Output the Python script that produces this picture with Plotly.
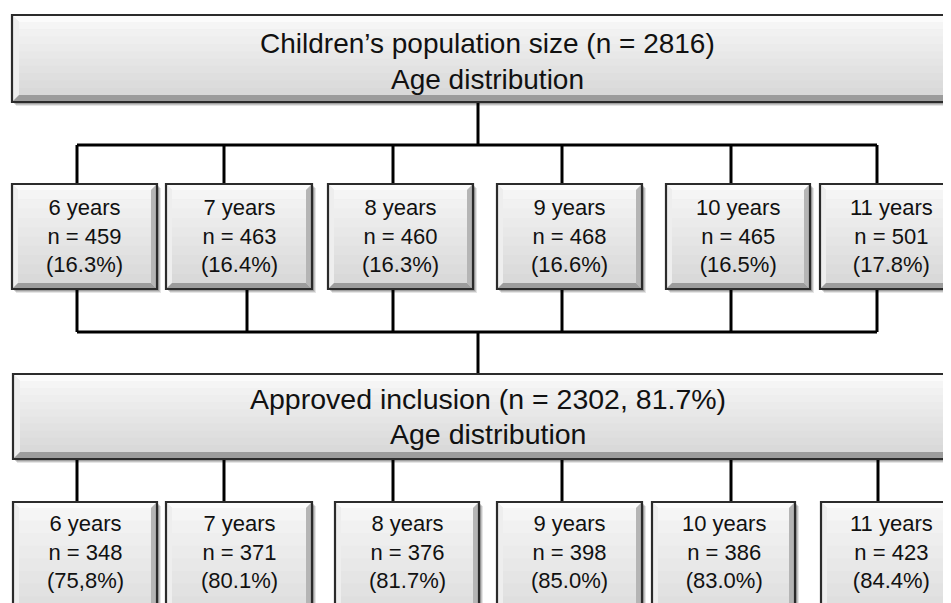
import plotly.graph_objects as go

# ---------------- data ----------------
age_groups = ["6 years", "7 years", "8 years", "9 years", "10 years", "11 years"]
population_n = [459, 463, 460, 468, 465, 501]
population_pct = ["16.3%", "16.4%", "16.3%", "16.6%", "16.5%", "17.8%"]
included_n = [348, 371, 376, 398, 386, 423]
included_pct = ["75,8%", "80.1%", "81.7%", "85.0%", "83.0%", "84.4%"]
population_total = 2816
included_total = 2302
included_total_pct = "81.7%"
top_title = "Children\u2019s population size (n = {})".format(population_total)
mid_title = "Approved inclusion (n = {}, {})".format(included_total, included_total_pct)
subtitle = "Age distribution"

# ---------------- layout geometry (page pixels) ----------------
W, H = 951, 603
PAGE_OFFSET = 8  # default browser body margin
top_box = (12, 962, 15, 102)
mid_box = (13, 962, 374, 459)
row1_x = [(12, 157), (166, 312), (328, 473), (497, 642), (666, 810), (820, 962)]
row1_y = (184, 289)
row2_x = [(13, 157), (166, 312), (335, 479), (497, 642), (652, 795), (821, 962)]
row2_y = (502, 640)
row1_drop_top = [77, 224, 393, 562, 731, 877]
row1_drop_bot = [77, 247, 393, 562, 731, 877]
row2_drop = [77, 224, 393, 562, 731, 878]
center_x = 478

fig = go.Figure()
fig.add_trace(go.Scatter(x=[PAGE_OFFSET, W], y=[PAGE_OFFSET, H], mode="markers",
                         marker=dict(opacity=0), hoverinfo="skip", showlegend=False))

shapes = []
annotations = []

LINE = dict(color="#000000", width=3)


def seg(x0, y0, x1, y1):
    shapes.append(dict(type="line", xref="x", yref="y", x0=x0, y0=y0, x1=x1, y1=y1,
                       line=LINE, layer="below"))


def box(x0, x1, y0, y1, bev=6):
    # soft shadow
    for i, a in enumerate([0.10, 0.14, 0.18]):
        o = 4 - i
        shapes.append(dict(type="rect", xref="x", yref="y", x0=x0 + o, x1=x1 + o, y0=y0 + o, y1=y1 + o,
                           fillcolor="rgba(0,0,0,%.2f)" % a, line=dict(width=0), layer="below"))
    # body
    shapes.append(dict(type="rect", xref="x", yref="y", x0=x0, x1=x1, y0=y0, y1=y1,
                       fillcolor="#e4e4e4", line=dict(width=0), layer="below"))
    # vertical gradient inside
    n = 10
    ix0, ix1, iy0, iy1 = x0 + bev, x1 - bev, y0 + bev, y1 - bev
    for k in range(n):
        t = k / (n - 1)
        g = int(245 - 28 * t)
        shapes.append(dict(type="rect", xref="x", yref="y", x0=ix0, x1=ix1,
                           y0=iy0 + (iy1 - iy0) * k / n, y1=iy0 + (iy1 - iy0) * (k + 1) / n + 0.5,
                           fillcolor="rgb(%d,%d,%d)" % (g, g, g), line=dict(width=0), layer="below"))
    # bevels
    def poly(pts, col):
        p = "M " + " L ".join("%s,%s" % (a, b) for a, b in pts) + " Z"
        shapes.append(dict(type="path", xref="x", yref="y", path=p, fillcolor=col,
                           line=dict(width=0), layer="below"))
    poly([(x0, y0), (x1, y0), (ix1, iy0), (ix0, iy0)], "#fbfbfb")
    poly([(x0, y0), (ix0, iy0), (ix0, iy1), (x0, y1)], "#eeeeee")
    poly([(x1, y0), (x1, y1), (ix1, iy1), (ix1, iy0)], "#b5b5b5")
    poly([(x0, y1), (ix0, iy1), (ix1, iy1), (x1, y1)], "#9c9c9c")
    # outline
    shapes.append(dict(type="rect", xref="x", yref="y", x0=x0, x1=x1, y0=y0, y1=y1,
                       fillcolor="rgba(0,0,0,0)", line=dict(color="#2b2b2b", width=2.2), layer="below"))


def text(x, y, s, size):
    annotations.append(dict(x=x, y=y, xref="x", yref="y", text=s, showarrow=False,
                            xanchor="center", yanchor="middle",
                            font=dict(family="Liberation Sans, Arial, sans-serif", size=size, color="#111111")))


# connectors
seg(center_x, top_box[3], center_x, 145)
seg(row1_drop_top[0], 145, row1_drop_top[-1], 145)
for x in row1_drop_top:
    seg(x, 145, x, row1_y[0])
for x in row1_drop_bot:
    seg(x, row1_y[1], x, 332)
seg(row1_drop_bot[0], 332, row1_drop_bot[-1], 332)
seg(center_x, 332, center_x, mid_box[2])
for x in row2_drop:
    seg(x, mid_box[3], x, row2_y[0])

# big boxes
box(*top_box, bev=7)
cx = (top_box[0] + top_box[1]) / 2
text(cx, 43, top_title, 28)
text(cx, 79, subtitle, 28)

box(*mid_box, bev=7)
cx = (mid_box[0] + mid_box[1]) / 2
text(cx, 399, mid_title, 28.5)
text(cx, 434, subtitle, 28.5)

# age boxes
for i, age in enumerate(age_groups):
    x0, x1 = row1_x[i]
    box(x0, x1, row1_y[0], row1_y[1])
    cx = (x0 + x1) / 2
    label = "{}<br>n = {}<br>({})".format(age, population_n[i], population_pct[i])
    text(cx, row1_y[0] + 52, label, 22)

    x0, x1 = row2_x[i]
    box(x0, x1, row2_y[0], row2_y[1])
    cx = (x0 + x1) / 2
    label = "{}<br>n = {}<br>({})".format(age, included_n[i], included_pct[i])
    text(cx, row2_y[0] + 50, label, 22)

fig.update_layout(
    width=W, height=H,
    margin=dict(l=0, r=0, t=0, b=0),
    paper_bgcolor="white", plot_bgcolor="white",
    xaxis=dict(range=[PAGE_OFFSET, W + PAGE_OFFSET], visible=False, fixedrange=True),
    yaxis=dict(range=[H + PAGE_OFFSET, PAGE_OFFSET], visible=False, fixedrange=True),
    shapes=shapes, annotations=annotations,
    showlegend=False,
)

fig.write_html("out.html")
